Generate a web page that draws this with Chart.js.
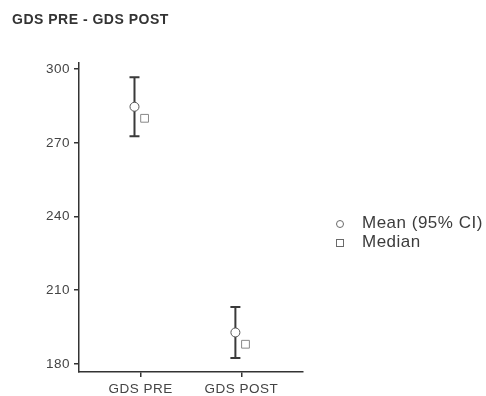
<!DOCTYPE html>
<html>
<head>
<meta charset="utf-8">
<script src="https://cdn.jsdelivr.net/npm/chart.js@4.4.1/dist/chart.umd.min.js"></script>
<style>
  html, body { margin: 0; padding: 0; background: #fff; }
  #wrap { position: relative; width: 486px; height: 396px; }
  #legend { position: absolute; left: 335px; top: 213px; font: 17px "Liberation Sans", Arial, sans-serif; letter-spacing: 0.5px; color: #3c3c3c; }
  #legend div { height: 19px; line-height: 19px; white-space: nowrap; }
  #legend .sym { display: inline-block; width: 8px; height: 8px; border: 1px solid #6a6a6a; background: #fff; margin: 0 18px 0 1px; vertical-align: 0px; box-sizing: border-box; }
  #legend .circle { border-radius: 50%; }
</style>
</head>
<body>
<div id="wrap">
  <canvas id="descChart" width="486" height="396"></canvas>
  <div id="legend">
    <div><span class="sym circle"></span>Mean (95% CI)</div>
    <div><span class="sym"></span>Median</div>
  </div>
</div>
<script>
// Descriptives: GDS before and after
const categories = ['GDS PRE', 'GDS POST'];
const means = [284.7, 192.8];
const ciLower = [272.7, 182.4];
const ciUpper = [296.7, 203.2];
const medians = [280.0, 188.0];
const yTicks = [180, 210, 240, 270, 300];

const axisColor = '#333';
const meanShift = -0.06;   // mean drawn just left of the tick
const medianShift = 0.04;  // median just right of it
const font = { family: '"Liberation Sans", Arial, sans-serif', size: 13.5 };

// slightly looser text than the canvas default
const spacing = {
    id: 'spacing',
    beforeDraw(chart) { chart.ctx.letterSpacing = '0.5px'; }
};

// error bars for the CI, drawn under the mean markers
const ciBars = {
    id: 'ciBars',
    beforeDatasetsDraw(chart) {
        const { ctx, scales: { x, y } } = chart;
        ctx.save();
        ctx.strokeStyle = '#3a3a3a';
        ctx.lineWidth = 2;
        categories.forEach((c, i) => {
            const px = x.getPixelForValue(i + 1 + meanShift);
            const top = y.getPixelForValue(ciUpper[i]);
            const bot = y.getPixelForValue(ciLower[i]);
            ctx.beginPath();
            ctx.moveTo(px, top); ctx.lineTo(px, bot);
            ctx.moveTo(px - 5, top); ctx.lineTo(px + 5, top);
            ctx.moveTo(px - 5, bot); ctx.lineTo(px + 5, bot);
            ctx.stroke();
        });
        ctx.restore();
    }
};

new Chart(document.getElementById('descChart'), {
    type: 'scatter',
    data: {
        datasets: [{
            label: 'Mean (95% CI)',
            data: means.map((v, i) => ({ x: i + 1 + meanShift, y: v })),
            pointStyle: 'circle',
            pointRadius: 4.5,
            pointBackgroundColor: '#fff',
            pointBorderColor: '#555',
            pointBorderWidth: 1
        }, {
            label: 'Median',
            data: medians.map((v, i) => ({ x: i + 1 + medianShift, y: v })),
            pointStyle: 'rect',
            pointRadius: 5.5,
            pointBackgroundColor: '#fff',
            pointBorderColor: '#888',
            pointBorderWidth: 1
        }]
    },
    options: {
        responsive: false,
        animation: false,
        layout: { padding: { left: 12, right: 183, top: 0, bottom: 0 } },
        plugins: {
            legend: { display: false },
            tooltip: { enabled: false },
            title: {
                display: true,
                text: 'GDS PRE - GDS POST',
                align: 'start',
                color: '#333',
                font: { family: font.family, size: 14, weight: 'bold' },
                padding: { top: 12, bottom: 34 }
            }
        },
        scales: {
            x: {
                type: 'linear',
                min: 0.39,
                max: 2.61,
                afterBuildTicks: s => { s.ticks = categories.map((c, i) => ({ value: i + 1 })); },
                afterFit: s => { s.height = 24; },
                ticks: {
                    callback: v => categories[v - 1],
                    color: '#444',
                    font: font,
                    padding: 4,
                    maxRotation: 0
                },
                grid: { drawOnChartArea: false, drawTicks: true, tickLength: 5, color: axisColor, lineWidth: 1.5 },
                border: { display: true, color: axisColor, width: 1.5 }
            },
            y: {
                min: 176.7,
                max: 302.6,
                afterBuildTicks: s => { s.ticks = yTicks.map(v => ({ value: v })); },
                afterFit: s => { s.width = 67; },
                ticks: { color: '#444', font: font, padding: 4 },
                grid: { drawOnChartArea: false, drawTicks: true, tickLength: 5, color: axisColor, lineWidth: 1.5 },
                border: { display: true, color: axisColor, width: 1.5 }
            }
        }
    },
    plugins: [spacing, ciBars]
});
</script>
</body>
</html>
